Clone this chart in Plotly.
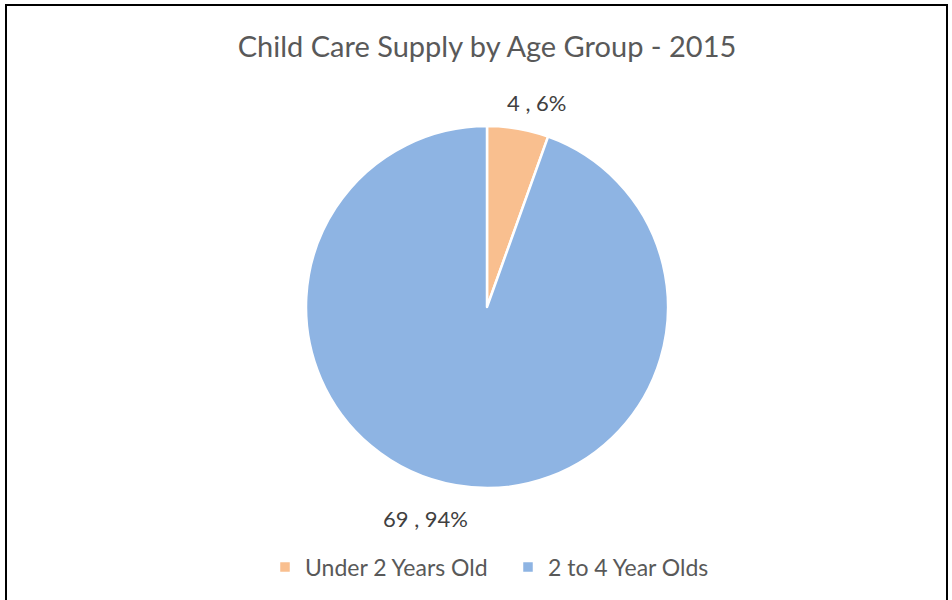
import plotly.graph_objects as go

categories = ["Under 2 Years Old", "2 to 4 Year Olds"]
values = [4, 69]
pct_labels = ["6%", "94%"]
colors = ["#F9BF8F", "#8EB4E3"]

W, H = 952, 600

# data-label anchor points (pixels in the 952x600 frame)
label_px = [(536, 103), (425, 518)]

fig = go.Figure(go.Pie(
    labels=categories,
    values=values,
    textinfo="none",
    marker=dict(colors=colors, line=dict(color="white", width=2.5)),
    sort=False,
    direction="clockwise",
    rotation=0,
    hoverinfo="label+value",
    domain=dict(x=[306 / W, 668 / W], y=[(H - 488) / H, (H - 126) / H]),
))

annotations = []
for v, p, (px, py) in zip(values, pct_labels, label_px):
    annotations.append(dict(
        text=f"{v} , {p}", xref="paper", yref="paper", x=px / W, y=1 - py / H,
        xanchor="center", yanchor="middle", showarrow=False,
        font=dict(family="Lato", size=22, color="#404040")))

fig.update_layout(
    width=W, height=H,
    margin=dict(l=0, r=0, t=0, b=0),
    paper_bgcolor="white",
    title=dict(text="Child Care Supply by Age Group - 2015", x=487 / W, xanchor="center",
               y=1 - 47 / H, yanchor="middle",
               font=dict(family="Lato", size=29, color="#595959")),
    legend=dict(orientation="h", x=265 / W, xanchor="left", y=1 - 567 / H, yanchor="middle",
                font=dict(family="Lato", size=23, color="#595959"),
                entrywidth=198, entrywidthmode="pixels"),
    showlegend=True,
    annotations=annotations,
    shapes=[dict(type="rect", xref="paper", yref="paper",
                 x0=6 / W, x1=947 / W, y0=-0.05, y1=1 - 5 / H,
                 line=dict(color="black", width=2), fillcolor="rgba(0,0,0,0)")],
)

fig.write_html("out.html", config={"displayModeBar": False},
               post_script="document.body.style.margin='0';document.body.style.overflow='hidden';")
